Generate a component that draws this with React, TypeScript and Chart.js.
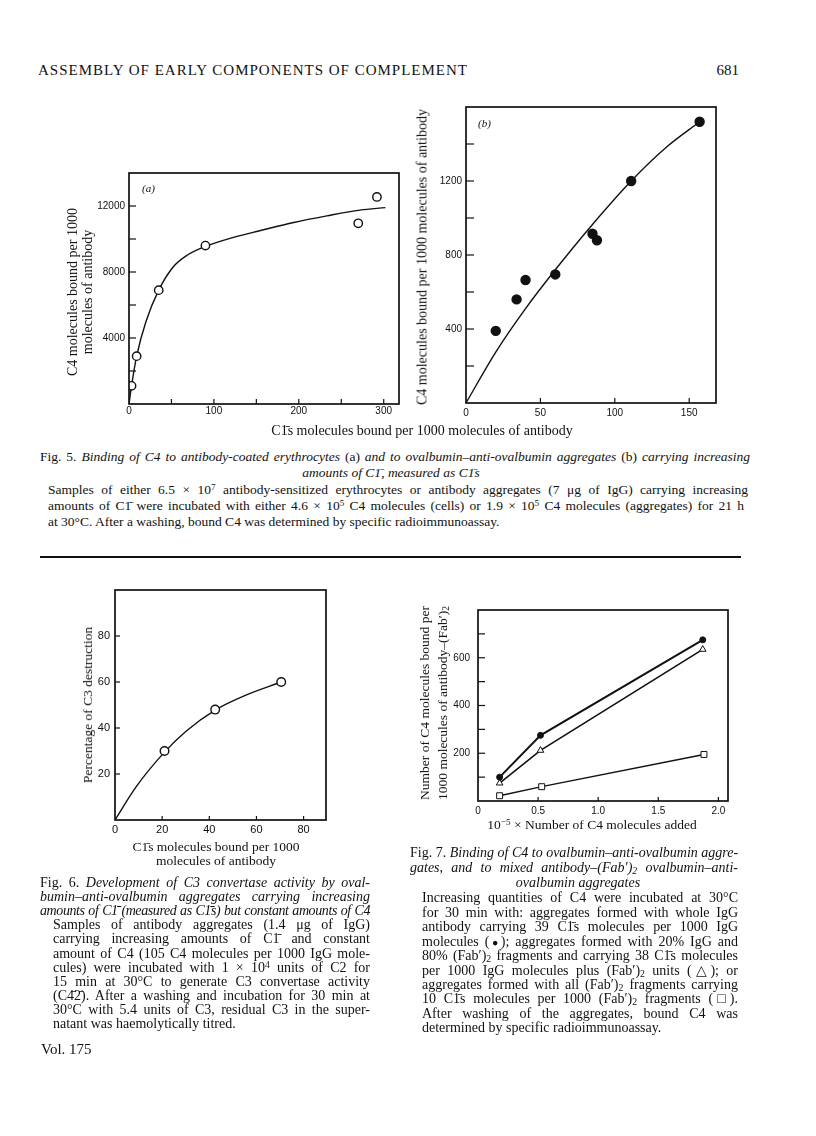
import React, { useEffect, useRef } from "react";
import { Chart, registerables } from "chart.js";

Chart.register(...registerables);

// ---------------- Fig. 5 (a) ----------------
const fig5aPointX = [3, 9, 35, 90, 270, 292];
const fig5aPointY = [1100, 2900, 6900, 9600, 10950, 12550];
const fig5aCurveX = [0, 3, 9, 20, 35, 52, 68, 90, 123, 154, 194, 233, 272, 302];
const fig5aCurveY = [0, 1100, 2900, 5000, 6900, 8300, 9000, 9550, 10100, 10500, 11000, 11400, 11750, 11900];
const fig5aXLabels = [0, 100, 200, 300];
const fig5aYLabels = [4000, 8000, 12000];

// ---------------- Fig. 5 (b) ----------------
const fig5bPointX = [20, 34, 40, 60, 85, 88, 111, 157];
const fig5bPointY = [390, 560, 665, 695, 915, 880, 1200, 1520];
const fig5bCurveX = [0, 20, 40, 60, 85, 111, 135, 157];
const fig5bCurveY = [0, 275, 510, 720, 965, 1200, 1385, 1520];
const fig5bXLabels = [0, 50, 100, 150];
const fig5bYLabels = [400, 800, 1200];

// ---------------- Fig. 6 ----------------
const fig6PointX = [21, 42.5, 70.5];
const fig6PointY = [30, 48, 60];
const fig6CurveX = [0, 9, 21, 30, 42.5, 56, 70.5];
const fig6CurveY = [0, 14.5, 29.5, 38.5, 47.8, 54.5, 60];
const fig6XLabels = [0, 20, 40, 60, 80];
const fig6YLabels = [20, 40, 60, 80];

// ---------------- Fig. 7 ----------------
const fig7WholeX = [0.18, 0.52, 1.87];
const fig7WholeY = [100, 275, 675];
const fig7MixedX = [0.18, 0.52, 1.87];
const fig7MixedY = [75, 212, 635];
const fig7FabX = [0.18, 0.53, 1.88];
const fig7FabY = [22, 60, 195];
const fig7XLabels = [0, 0.5, 1, 1.5, 2];
const fig7YLabels = [200, 400, 600];

const INK = "#111111";
const SERIF = '"Liberation Serif", "Times New Roman", serif';
const SANS = '"Liberation Sans", Arial, sans-serif';

const YW = 50; // y-axis box width
const XH = 26; // x-axis box height
const PT = 12; // top padding
const PR = 20; // right padding

type AxisSpec = {
  min: number;
  max: number;
  step: number;
  labels: number[];
  fmt?: (v: number) => string;
  pad: number;
  tick: number;
};

type Spec = {
  frame: [number, number, number, number];
  x: AxisSpec;
  y: AxisSpec;
  font: number;
  datasets: any[];
};

const pts = (xs: number[], ys: number[]) => xs.map((x, i) => ({ x, y: ys[i] }));

const framePlugin = {
  id: "pageFrame",
  afterDatasetsDraw(chart: any, _args: any, opts: any) {
    const { ctx, chartArea: a, scales } = chart;
    ctx.save();
    ctx.strokeStyle = INK;
    ctx.lineWidth = 1.7;
    ctx.strokeRect(a.left, a.top, a.right - a.left, a.bottom - a.top);
    ctx.lineWidth = 1.2;
    const xs = scales.x;
    xs.ticks.forEach((t: any) => {
      const px = xs.getPixelForValue(t.value);
      if (px <= a.left + 1 || px >= a.right - 1) return;
      ctx.beginPath();
      ctx.moveTo(px, a.bottom);
      ctx.lineTo(px, a.bottom - opts.xTick);
      ctx.stroke();
    });
    const ys = scales.y;
    ys.ticks.forEach((t: any) => {
      const py = ys.getPixelForValue(t.value);
      if (py >= a.bottom - 1 || py <= a.top + 1) return;
      ctx.beginPath();
      ctx.moveTo(a.left, py);
      ctx.lineTo(a.left + opts.yTick, py);
      ctx.stroke();
    });
    ctx.restore();
  },
};

function axis(s: AxisSpec, font: number, isX: boolean) {
  return {
    type: "linear",
    min: s.min,
    max: s.max,
    grid: { display: false, drawTicks: false, tickLength: 0 },
    border: { display: false },
    ticks: {
      stepSize: s.step,
      includeBounds: false,
      autoSkip: false,
      maxRotation: 0,
      minRotation: 0,
      padding: s.pad,
      color: INK,
      font: { family: SANS, size: font },
      callback: (v: number) =>
        s.labels.some((l) => Math.abs(l - v) < 1e-9) ? (s.fmt ? s.fmt(v) : String(v)) : "",
    },
    afterFit: (sc: any) => {
      if (isX) sc.height = XH;
      else sc.width = YW;
    },
  };
}

function buildConfig(s: Spec): any {
  return {
    type: "line",
    data: { datasets: s.datasets },
    options: {
      animation: false,
      responsive: false,
      maintainAspectRatio: false,
      events: [],
      layout: { padding: { top: PT, right: PR, left: 0, bottom: 0 }, autoPadding: false },
      plugins: {
        legend: { display: false },
        tooltip: { enabled: false },
        pageFrame: { xTick: s.x.tick, yTick: s.y.tick },
      },
      scales: { x: axis(s.x, s.font, true), y: axis(s.y, s.font, false) },
    },
    plugins: [framePlugin],
  };
}

const markerSet = (xs: number[], ys: number[], filled: boolean, r: number) => ({
  data: pts(xs, ys),
  showLine: false,
  pointRadius: r,
  pointStyle: "circle",
  pointBackgroundColor: filled ? INK : "#ffffff",
  pointBorderColor: INK,
  pointBorderWidth: 1.4,
});

const curveSet = (xs: number[], ys: number[]) => ({
  data: pts(xs, ys),
  pointRadius: 0,
  borderColor: INK,
  borderWidth: 1.4,
  cubicInterpolationMode: "monotone",
  fill: false,
});

const spec5a: Spec = {
  frame: [129, 173, 399, 404],
  x: { min: 0, max: 318, step: 50, labels: fig5aXLabels, pad: 1, tick: 5 },
  y: { min: 0, max: 14000, step: 2000, labels: fig5aYLabels, pad: 4, tick: 7 },
  font: 10,
  datasets: [markerSet(fig5aPointX, fig5aPointY, false, 4.2), curveSet(fig5aCurveX, fig5aCurveY)],
};

const spec5b: Spec = {
  frame: [466, 107, 716, 403],
  x: { min: 0, max: 168, step: 50, labels: fig5bXLabels, pad: 4, tick: 5 },
  y: { min: 0, max: 1600, step: 200, labels: fig5bYLabels, pad: 4, tick: 8 },
  font: 10,
  datasets: [markerSet(fig5bPointX, fig5bPointY, true, 4.5), curveSet(fig5bCurveX, fig5bCurveY)],
};

const spec6: Spec = {
  frame: [115, 590, 326, 820],
  x: { min: 0, max: 89.5, step: 20, labels: fig6XLabels, pad: 3, tick: 4 },
  y: { min: 0, max: 100, step: 20, labels: fig6YLabels, pad: 5, tick: 5 },
  font: 11,
  datasets: [markerSet(fig6PointX, fig6PointY, false, 4.3), curveSet(fig6CurveX, fig6CurveY)],
};

const spec7: Spec = {
  frame: [478, 608, 728, 801],
  x: {
    min: 0,
    max: 2.08,
    step: 0.5,
    labels: fig7XLabels,
    fmt: (v) => (v === 0 ? "0" : v.toFixed(1)),
    pad: 4,
    tick: 4,
  },
  y: { min: 0, max: 800, step: 100, labels: fig7YLabels, pad: 8, tick: 7 },
  font: 10,
  datasets: [
    {
      data: pts(fig7WholeX, fig7WholeY),
      borderColor: INK,
      borderWidth: 2,
      tension: 0,
      pointStyle: "circle",
      pointRadius: 3,
      pointBackgroundColor: INK,
      pointBorderColor: INK,
      pointBorderWidth: 1,
    },
    {
      data: pts(fig7MixedX, fig7MixedY),
      borderColor: INK,
      borderWidth: 1.6,
      tension: 0,
      pointStyle: "triangle",
      pointRadius: 3.8,
      pointBackgroundColor: "#ffffff",
      pointBorderColor: INK,
      pointBorderWidth: 1,
    },
    {
      data: pts(fig7FabX, fig7FabY),
      borderColor: INK,
      borderWidth: 1.4,
      tension: 0,
      pointStyle: "rect",
      pointRadius: 4.2,
      pointBackgroundColor: "#ffffff",
      pointBorderColor: INK,
      pointBorderWidth: 1,
    },
  ],
};

function Plot({ spec }: { spec: Spec }) {
  const ref = useRef<HTMLCanvasElement>(null);
  useEffect(() => {
    const chart = new Chart(ref.current as HTMLCanvasElement, buildConfig(spec));
    return () => chart.destroy();
  }, [spec]);
  const [l, t, r, b] = spec.frame;
  const w = r - l + YW + PR;
  const h = b - t + PT + XH;
  return (
    <canvas
      ref={ref}
      width={w}
      height={h}
      style={{ position: "absolute", left: l - YW, top: t - PT, width: w, height: h }}
    />
  );
}

type TP = {
  x: number;
  y: number;
  w?: number;
  size?: number;
  align?: "left" | "center" | "justify" | "right";
  italic?: boolean;
  ls?: number;
  lh?: number;
  children: React.ReactNode;
};

function T({ x, y, w = 300, size = 14, align = "left", italic = false, ls, lh, children }: TP) {
  const lineH = lh ?? Math.round(size * 1.2);
  const style: React.CSSProperties = {
    position: "absolute",
    top: y - lineH / 2,
    fontFamily: SERIF,
    fontSize: size,
    lineHeight: lineH + "px",
    whiteSpace: "nowrap",
    color: INK,
    fontStyle: italic ? "italic" : "normal",
    letterSpacing: ls,
  };
  if (align === "justify") {
    style.left = x;
    style.width = w;
    style.textAlign = "justify";
    (style as any).textAlignLast = "justify";
  } else if (align === "center") {
    style.left = x - w / 2;
    style.width = w;
    style.textAlign = "center";
  } else if (align === "right") {
    style.left = x - w;
    style.width = w;
    style.textAlign = "right";
  } else {
    style.left = x;
  }
  return <div style={style}>{children}</div>;
}

function RotText({ cx, cy, size = 14, lh, lines }: { cx: number; cy: number; size?: number; lh?: number; lines: React.ReactNode[] }) {
  return (
    <div
      style={{
        position: "absolute",
        left: cx,
        top: cy,
        transform: "translate(-50%, -50%) rotate(-90deg)",
        fontFamily: SERIF,
        fontSize: size,
        lineHeight: (lh ?? Math.round(size * 1.2)) + "px",
        whiteSpace: "nowrap",
        textAlign: "center",
        color: INK,
      }}
    >
      {lines.map((l, i) => (
        <div key={i}>{l}</div>
      ))}
    </div>
  );
}

const Sub = ({ children }: { children: React.ReactNode }) => (
  <sub style={{ fontSize: "0.7em", verticalAlign: "-0.25em", lineHeight: 0 }}>{children}</sub>
);
const Sup = ({ children }: { children: React.ReactNode }) => (
  <sup style={{ fontSize: "0.68em", verticalAlign: "0.45em", lineHeight: 0 }}>{children}</sup>
);
const I = ({ children }: { children: React.ReactNode }) => <i>{children}</i>;

const C1 = "C1\u0304";
const C1s = "C1\u0304s";
const FAB = (
  <>
    (Fab{"\u2032"})<Sub>2</Sub>
  </>
);

export default function App() {
  return (
    <div
      style={{
        position: "absolute",
        left: 0,
        top: 0,
        width: 816,
        height: 1136,
        background: "#ffffff",
        overflow: "hidden",
      }}
    >
      {/* header */}
      <T x={38} y={70} size={15} ls={1}>
        ASSEMBLY OF EARLY COMPONENTS OF COMPLEMENT
      </T>
      <T x={739} y={70} w={60} size={15} align="right">
        681
      </T>

      {/* Fig 5 charts */}
      <Plot spec={spec5a} />
      <Plot spec={spec5b} />
      <T x={142} y={188} size={11} italic>
        (a)
      </T>
      <T x={478} y={123} size={11} italic>
        (b)
      </T>
      <RotText cx={80} cy={292} size={14} lh={15} lines={["C4 molecules bound per 1000", "molecules of antibody"]} />
      <RotText cx={422} cy={257} size={14} lines={["C4 molecules bound per 1000 molecules of antibody"]} />
      <T x={422} y={430} w={400} size={14} align="center">
        {C1s} molecules bound per 1000 molecules of antibody
      </T>

      {/* Fig 5 caption */}
      <T x={40} y={457} w={710} size={13.5} align="justify">
        Fig. 5. <I>Binding of C4 to antibody-coated erythrocytes </I>(a)<I> and to ovalbumin–anti-ovalbumin aggregates </I>(b)<I> carrying increasing</I>
      </T>
      <T x={391} y={473} w={300} size={13.5} align="center" italic>
        amounts of {C1}, measured as {C1s}
      </T>
      <T x={48} y={490} w={700} size={13.5} align="justify">
        Samples of either 6.5 × 10<Sup>7</Sup> antibody-sensitized erythrocytes or antibody aggregates (7 μg of IgG) carrying increasing
      </T>
      <T x={48} y={506} w={696} size={13.5} align="justify">
        amounts of {C1} were incubated with either 4.6 × 10<Sup>5</Sup> C4 molecules (cells) or 1.9 × 10<Sup>5</Sup> C4 molecules (aggregates) for 21 h
      </T>
      <T x={48} y={522} size={13.5}>
        at 30°C. After a washing, bound C4 was determined by specific radioimmunoassay.
      </T>

      {/* rule */}
      <div style={{ position: "absolute", left: 40, top: 556, width: 701, height: 1.5, background: INK }} />

      {/* Fig 6 chart */}
      <Plot spec={spec6} />
      <RotText cx={88} cy={705} size={13.5} lines={["Percentage of C3 destruction"]} />
      <T x={216} y={847} w={240} size={13.5} align="center">
        {C1s} molecules bound per 1000
      </T>
      <T x={216} y={861} w={240} size={13.5} align="center">
        molecules of antibody
      </T>

      {/* Fig 7 chart */}
      <Plot spec={spec7} />
      <RotText
        cx={434}
        cy={703}
        size={13.5}
        lh={18}
        lines={[
          "Number of C4 molecules bound per",
          <>1000 molecules of antibody–{FAB}</>,
        ]}
      />
      <T x={592} y={825} w={300} size={13.5} align="center">
        10<Sup>−5</Sup> × Number of C4 molecules added
      </T>

      {/* Fig 6 caption */}
      <T x={40} y={883} w={330} size={14} lh={14} align="justify">
        Fig. 6. <I>Development of C3 convertase activity by oval-</I>
      </T>
      <T x={40} y={897} w={330} size={14} lh={14} align="justify" italic>
        bumin–anti-ovalbumin aggregates carrying increasing
      </T>
      <T x={40} y={911} w={330} size={14} lh={14} align="justify" italic ls={-0.4}>
        amounts of {C1} (measured as {C1s}) but constant amounts of C4
      </T>
      <T x={53} y={925} w={317} size={14} lh={14} align="justify">
        Samples of antibody aggregates (1.4 μg of IgG)
      </T>
      <T x={53} y={939.3} w={317} size={14} lh={14} align="justify">
        carrying increasing amounts of {C1} and constant
      </T>
      <T x={53} y={953.5} w={317} size={14} lh={14} align="justify">
        amount of C4 (105 C4 molecules per 1000 IgG mole-
      </T>
      <T x={53} y={967.6} w={317} size={14} lh={14} align="justify">
        cules) were incubated with 1 × 10<Sup>4</Sup> units of C2 for
      </T>
      <T x={53} y={981.8} w={317} size={14} lh={14} align="justify">
        15 min at 30°C to generate C3 convertase activity
      </T>
      <T x={53} y={996} w={317} size={14} lh={14} align="justify">
        (C4{"\u0304"}2{"\u0304"}). After a washing and incubation for 30 min at
      </T>
      <T x={53} y={1010.2} w={317} size={14} lh={14} align="justify">
        30°C with 5.4 units of C3, residual C3 in the super-
      </T>
      <T x={53} y={1024.4} size={14} lh={14}>
        natant was haemolytically titred.
      </T>
      <T x={41} y={1048.5} size={15}>
        Vol. 175
      </T>

      {/* Fig 7 caption */}
      <T x={410} y={853.3} w={328} size={14} lh={14} align="justify">
        Fig. 7. <I>Binding of C4 to ovalbumin–anti-ovalbumin aggre-</I>
      </T>
      <T x={410} y={868.3} w={328} size={14} lh={14} align="justify" italic>
        gates, and to mixed antibody–{FAB} ovalbumin–anti-
      </T>
      <T x={578} y={882.7} w={300} size={14} lh={14} align="center" italic>
        ovalbumin aggregates
      </T>
      <T x={422} y={898.3} w={316} size={14} lh={14} align="justify">
        Increasing quantities of C4 were incubated at 30°C
      </T>
      <T x={422} y={912.7} w={316} size={14} lh={14} align="justify">
        for 30 min with: aggregates formed with whole IgG
      </T>
      <T x={422} y={927.2} w={316} size={14} lh={14} align="justify">
        antibody carrying 39 {C1s} molecules per 1000 IgG
      </T>
      <T x={422} y={941.6} w={316} size={14} lh={14} align="justify">
        molecules (<span style={{ fontSize: "0.75em" }}>●</span>); aggregates formed with 20% IgG and
      </T>
      <T x={422} y={956} w={316} size={14} lh={14} align="justify">
        80% {FAB} fragments and carrying 38 {C1s} molecules
      </T>
      <T x={422} y={970.6} w={316} size={14} lh={14} align="justify">
        per 1000 IgG molecules plus {FAB} units (△); or
      </T>
      <T x={422} y={985} w={316} size={14} lh={14} align="justify">
        aggregates formed with all {FAB} fragments carrying
      </T>
      <T x={422} y={999.4} w={316} size={14} lh={14} align="justify">
        10 {C1s} molecules per 1000 {FAB} fragments (□).
      </T>
      <T x={422} y={1014} w={316} size={14} lh={14} align="justify">
        After washing of the aggregates, bound C4 was
      </T>
      <T x={422} y={1028.4} size={14} lh={14}>
        determined by specific radioimmunoassay.
      </T>
    </div>
  );
}
